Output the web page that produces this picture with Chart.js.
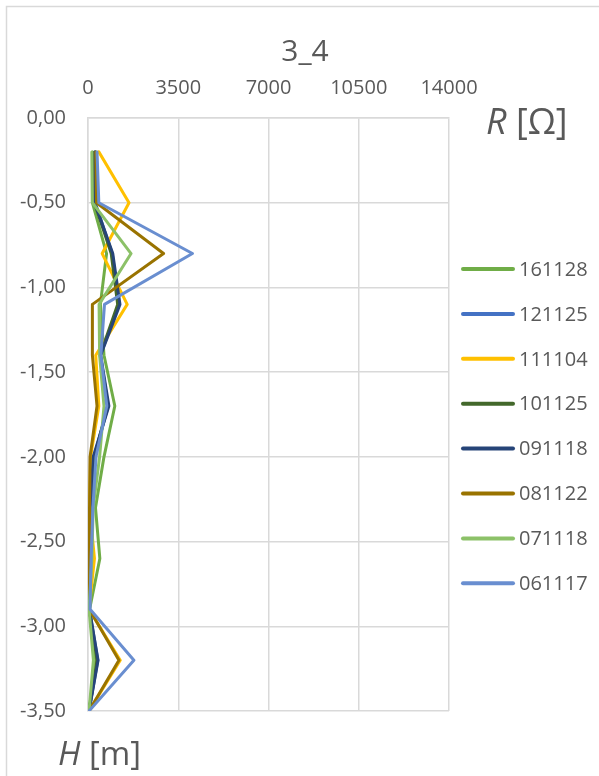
<!DOCTYPE html>
<html>
<head>
<meta charset="utf-8">
<script src="https://cdn.jsdelivr.net/npm/chart.js@4/dist/chart.umd.min.js"></script>
<style>
  html, body { margin: 0; padding: 0; background: #ffffff; }
  canvas { display: block; }
</style>
</head>
<body>
<canvas id="c" width="599" height="776"></canvas>
<script>
// Depth of each measurement [m]
const depths = [-0.2, -0.5, -0.8, -1.1, -1.4, -1.7, -2.0, -2.3, -2.6, -2.9, -3.2, -3.5];

// Resistance per survey date [Ω]
const r161128 = [170, 170, 720, 480, 620, 1040, 620, 290, 460, 60, 300, 40];
const r121125 = [300, 280, 940, 1200, 480, 780, 250, 150, 80, 60, 380, 40];
const r111104 = [420, 1590, 550, 1520, 300, 420, 100, 60, 250, 40, 1250, 40];
const r101125 = [250, 250, 900, 1150, 470, 760, 240, 140, 70, 50, 350, 40];
const r091118 = [280, 260, 960, 1240, 490, 810, 200, 100, 60, 50, 390, 40];
const r081122 = [300, 330, 2930, 170, 170, 350, 80, 60, 50, 50, 1200, 40];
const r071118 = [150, 170, 1670, 430, 450, 620, 450, 200, 150, 40, 210, 40];
const r061117 = [350, 420, 4050, 640, 500, 730, 310, 190, 120, 80, 1780, 40];

const seriesNames = ['161128', '121125', '111104', '101125', '091118', '081122', '071118', '061117'];
const seriesValues = [r161128, r121125, r111104, r101125, r091118, r081122, r071118, r061117];
const seriesColors = ['#70AD47', '#4472C4', '#FFC000', '#43682B', '#264478', '#997300', '#8CC168', '#698ED0'];

// Axis ticks
const xTicks = [0, 3500, 7000, 10500, 14000];
const yTicks = [0, -0.5, -1, -1.5, -2, -2.5, -3, -3.5];

const chartTitle = '3_4';
const TEXT = '#595959';
const GRID = '#d9d9d9';
const FONT = "'Open Sans', sans-serif";

const datasets = seriesNames.map((name, i) => ({
  label: name,
  data: depths.map((h, k) => ({ x: seriesValues[i][k], y: h })),
  borderColor: seriesColors[i],
  backgroundColor: seriesColors[i],
  borderWidth: 3,
  borderJoinStyle: 'round',
  borderCapStyle: 'round',
  pointRadius: 0,
  showLine: true,
  tension: 0,
  // later surveys in the list are painted above earlier ones
  order: -i
}));

// Frame, title, axis names and legend
const decorations = {
  id: 'decorations',
  beforeDraw(chart) {
    const ctx = chart.ctx;
    ctx.save();
    ctx.fillStyle = '#ffffff';
    ctx.fillRect(0, 0, chart.width, chart.height);
    ctx.strokeStyle = GRID;
    ctx.lineWidth = 1.5;
    ctx.strokeRect(6.5, 6.5, 700, 800);
    ctx.restore();
  },
  afterDraw(chart) {
    const ctx = chart.ctx;
    ctx.save();
    ctx.fillStyle = TEXT;
    ctx.textBaseline = 'alphabetic';

    // title
    ctx.font = "30px " + FONT;
    ctx.textAlign = 'center';
    ctx.fillText(chartTitle, 305, 61);

    // axis names
    ctx.textAlign = 'left';
    ctx.font = "italic 36px " + FONT;
    ctx.fillText('R', 486, 134);
    let w = ctx.measureText('R').width;
    ctx.font = "36px " + FONT;
    ctx.fillText(' [Ω]', 486 + w, 134);

    ctx.font = "italic 33px " + FONT;
    ctx.fillText('H', 58, 765);
    w = ctx.measureText('H').width;
    ctx.font = "33px " + FONT;
    ctx.fillText(' [m]', 58 + w, 765);

    // legend
    ctx.font = "20px " + FONT;
    ctx.textBaseline = 'middle';
    chart.data.datasets.forEach((ds, i) => {
      const y = 269 + i * 44.9;
      ctx.strokeStyle = ds.borderColor;
      ctx.lineWidth = 4;
      ctx.lineCap = 'round';
      ctx.beginPath();
      ctx.moveTo(463, y);
      ctx.lineTo(513, y);
      ctx.stroke();
      ctx.fillStyle = TEXT;
      ctx.fillText(ds.label, 519, y + 1);
    });
    ctx.restore();
  }
};

new Chart(document.getElementById('c'), {
  type: 'scatter',
  data: { datasets },
  options: {
    responsive: false,
    animation: false,
    devicePixelRatio: 1,
    layout: { padding: { left: 0, top: 66, right: 150, bottom: 65 } },
    plugins: {
      legend: { display: false },
      title: { display: false },
      tooltip: { enabled: false }
    },
    scales: {
      x: {
        type: 'linear',
        position: 'top',
        min: xTicks[0],
        max: xTicks[xTicks.length - 1],
        afterFit(scale) { scale.height = 52; },
        afterBuildTicks(scale) { scale.ticks = xTicks.map(v => ({ value: v })); },
        ticks: {
          padding: 18,
          color: TEXT,
          font: { family: FONT, size: 20 },
          callback: v => String(v)
        },
        grid: { color: GRID, lineWidth: 1.5, drawTicks: false },
        border: { display: true, color: GRID, width: 1.5 }
      },
      y: {
        type: 'linear',
        position: 'left',
        min: yTicks[yTicks.length - 1],
        max: yTicks[0],
        afterFit(scale) { scale.width = 88; },
        afterBuildTicks(scale) { scale.ticks = yTicks.map(v => ({ value: v })); },
        ticks: {
          padding: 22,
          color: TEXT,
          font: { family: FONT, size: 20 },
          callback: v => v.toFixed(2).replace('.', ',')
        },
        grid: { color: GRID, lineWidth: 1.5, drawTicks: false },
        border: { display: true, color: GRID, width: 1.5 }
      }
    }
  },
  plugins: [decorations]
});
</script>
</body>
</html>
